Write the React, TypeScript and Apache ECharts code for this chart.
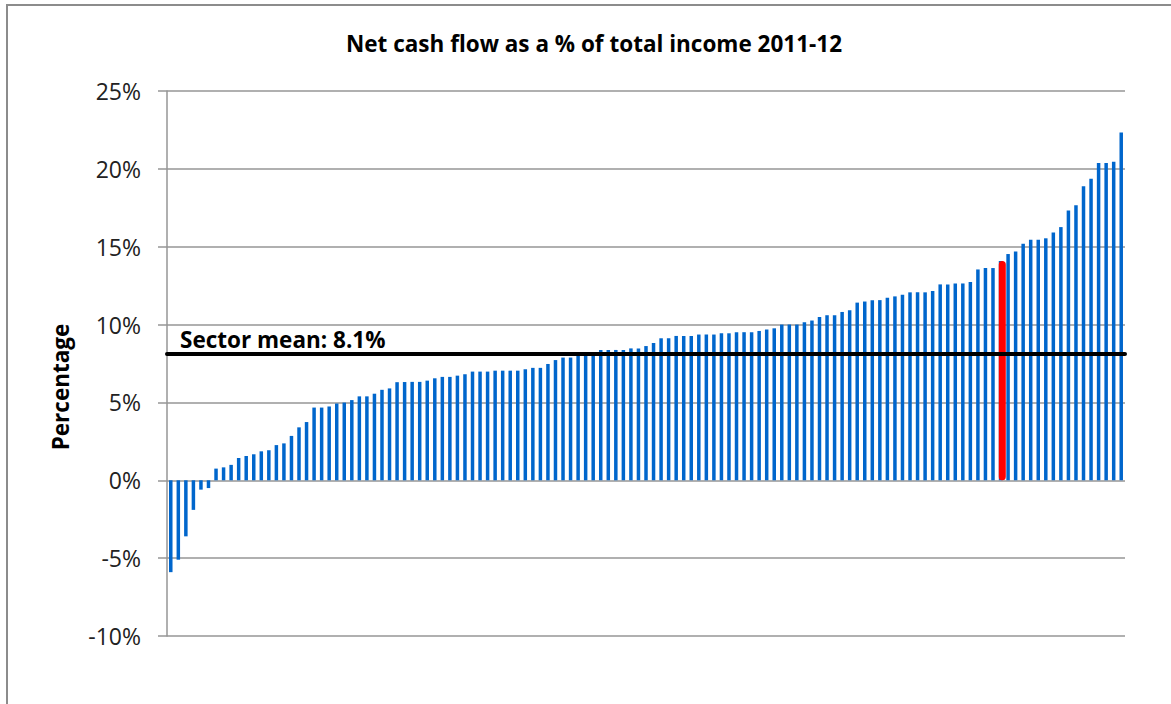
import React, { useEffect, useRef } from "react";
import * as echarts from "echarts";

const titleText = "Net cash flow as a % of total income 2011-12";
const yAxisTitle = "Percentage";
const meanLabel = "Sector mean: 8.1%";
const sectorMean = 8.1;
const highlightIndex = 110;

const yTicks = [-10, -5, 0, 5, 10, 15, 20, 25];

const values = [
  -5.9, -5.1, -3.6, -1.9, -0.6, -0.5, 0.75, 0.83, 0.99, 1.43,
  1.56, 1.67, 1.86, 1.93, 2.26, 2.37, 2.85, 3.4, 3.74, 4.67,
  4.67, 4.74, 4.93, 4.99, 5.15, 5.39, 5.39, 5.56, 5.81, 5.9,
  6.3, 6.31, 6.32, 6.32, 6.4, 6.55, 6.64, 6.64, 6.72, 6.81,
  6.98, 6.98, 6.98, 7.04, 7.04, 7.04, 7.04, 7.13, 7.22, 7.22,
  7.47, 7.72, 7.88, 7.88, 8.04, 8.07, 8.1, 8.37, 8.37, 8.37,
  8.37, 8.47, 8.47, 8.62, 8.81, 9.12, 9.12, 9.27, 9.27, 9.27,
  9.36, 9.36, 9.36, 9.44, 9.44, 9.51, 9.51, 9.51, 9.59, 9.68,
  9.76, 10.0, 10.0, 10.0, 10.15, 10.26, 10.49, 10.6, 10.6, 10.81,
  10.92, 11.41, 11.48, 11.56, 11.57, 11.72, 11.81, 11.92, 12.07, 12.07,
  12.07, 12.15, 12.58, 12.58, 12.64, 12.64, 12.73, 13.54, 13.63, 13.63,
  14.08, 14.53, 14.7, 15.19, 15.45, 15.45, 15.54, 15.92, 16.26, 17.33,
  17.66, 18.88, 19.37, 20.37, 20.37, 20.46, 22.34,
];

const categories = values.map((_, i) => String(i + 1));
const highlightValues = values.map((v, i) => (i === highlightIndex ? v : "-"));

const FONT = "'Open Sans', 'Noto Sans', sans-serif";

export default function App() {
  const ref = useRef<HTMLDivElement>(null);
  useEffect(() => {
    if (!ref.current) return;
    const chart = echarts.init(ref.current, null, { renderer: "svg" });
    chart.setOption({
      animation: false,
      backgroundColor: "#ffffff",
      grid: { left: 167, right: 46, top: 91, bottom: 68, containLabel: false },
      xAxis: {
        type: "category",
        data: categories,
        axisLine: { show: false },
        axisTick: { show: false },
        axisLabel: { show: false },
        splitLine: { show: false },
      },
      yAxis: {
        type: "value",
        min: yTicks[0],
        max: yTicks[yTicks.length - 1],
        interval: 5,
        axisLine: { show: true, lineStyle: { color: "#969696", width: 1.5 } },
        axisTick: { show: true, length: 9, lineStyle: { color: "#969696", width: 1.5 } },
        axisLabel: {
          formatter: (v: number) => `${v}%`,
          fontFamily: FONT,
          fontSize: 23,
          color: "#222",
          margin: 26,
        },
        splitLine: { show: true, lineStyle: { color: "#969696", width: 1.5 } },
      },
      series: [
        {
          type: "bar",
          name: "Highlight",
          data: highlightValues,
          barWidth: 7,
          barGap: "-100%",
          z: 4,
          itemStyle: { color: "#ff0000", borderRadius: 3.5 },
        },
        {
          type: "bar",
          name: "Net cash flow",
          data: values,
          barWidth: 3.5,
          z: 2,
          itemStyle: { color: "#0066cc" },
          markLine: {
            silent: true,
            symbol: "none",
            z: 5,
            label: { show: false },
            lineStyle: { color: "#000", width: 4, type: "solid", cap: "round" },
            data: [{ yAxis: sectorMean }],
          },
        },
      ],
      graphic: [
        {
          type: "rect",
          shape: { x: 7, y: 5, width: 1200, height: 760 },
          style: { fill: "none", stroke: "#8c8c8c", lineWidth: 2 },
          silent: true,
        },
        {
          type: "text",
          x: 594,
          y: 43,
          style: {
            text: titleText,
            fontFamily: FONT,
            fontSize: 22.5,
            fontWeight: "bold",
            fill: "#000",
            align: "center",
            verticalAlign: "middle",
          },
        },
        {
          type: "text",
          x: 60,
          y: 387,
          rotation: Math.PI / 2,
          style: {
            text: yAxisTitle,
            fontFamily: FONT,
            fontSize: 22.5,
            fontWeight: "bold",
            fill: "#000",
            align: "center",
            verticalAlign: "middle",
          },
        },
        {
          type: "text",
          x: 180,
          y: 339,
          z: 10,
          style: {
            text: meanLabel,
            fontFamily: FONT,
            fontSize: 22.5,
            fontWeight: "bold",
            fill: "#000",
            align: "left",
            verticalAlign: "middle",
          },
        },
      ],
    });
    return () => chart.dispose();
  }, []);
  return (
    <div
      ref={ref}
      style={{ position: "fixed", left: 0, top: 0, width: 1171, height: 704 }}
    />
  );
}
